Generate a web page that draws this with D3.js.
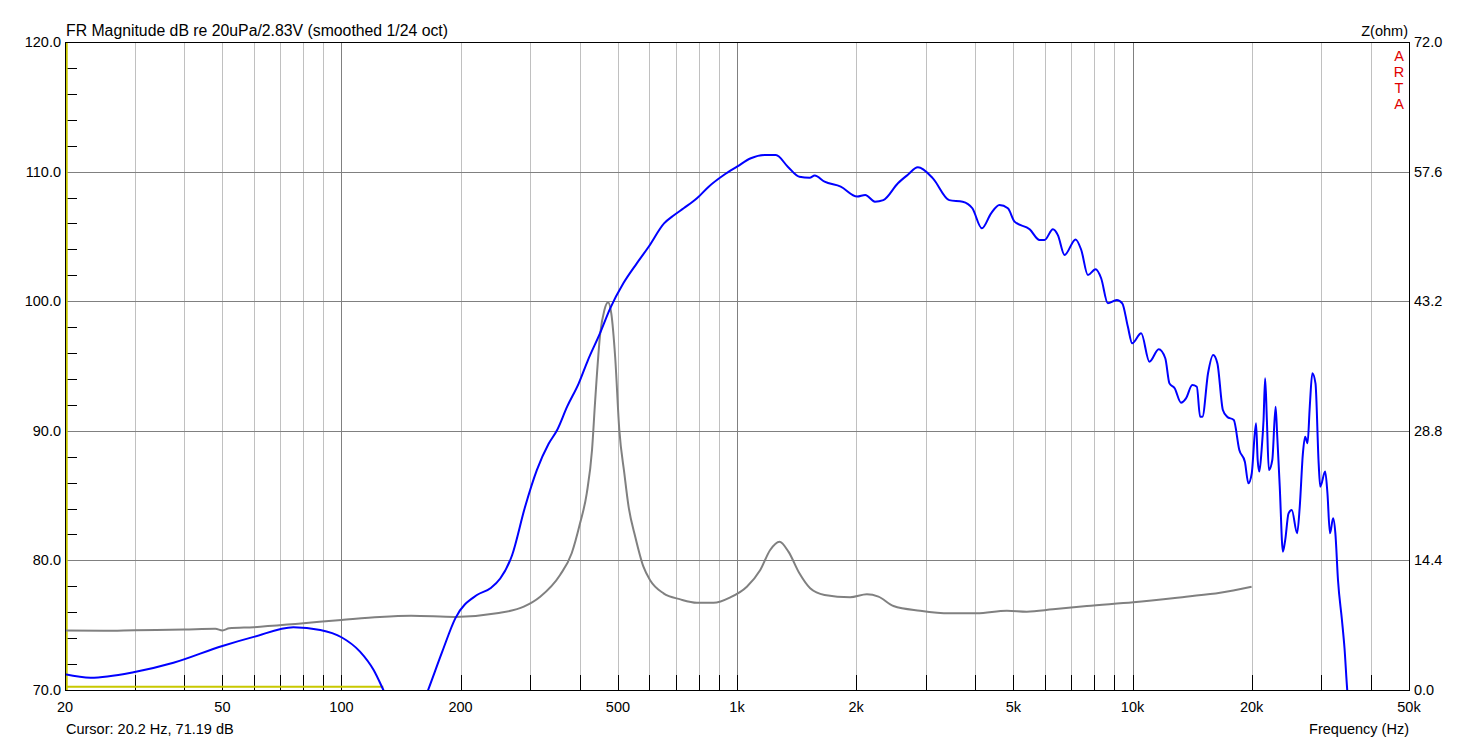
<!DOCTYPE html>
<html>
<head>
<meta charset="utf-8">
<script src="https://cdn.jsdelivr.net/npm/d3@7"></script>
<style>
  body { margin: 0; background: #fff; }
  svg { display: block; font-family: Arial, "Liberation Sans", sans-serif; }
</style>
</head>
<body>
<div id="chart"></div>
<script>
// SPL curve (Hz, dB) - null marks the gap where it drops below 70 dB
const splFreq = [20, 23.2, 29.8, 37.6, 50, 60, 75.6, 88.4, 100, 111.4, 120.6, 127.6, 132,
  145, 160, 165.6, 180, 194, 220, 238, 252, 270, 291, 312, 334, 351, 372, 398, 420, 450, 478,
  516, 558, 598, 654, 694, 733, 792, 848, 926, 1000, 1084, 1174, 1254, 1344, 1438, 1527, 1572,
  1665, 1829, 2012, 2110, 2232, 2344, 2552, 2700, 2866, 3128, 3440, 3720, 3936, 4160, 4390,
  4608, 4840, 5032, 5494, 5820, 5990, 6292, 6475, 6732, 7180, 7420, 7712, 8064, 8330, 8660,
  9120, 9420, 9730, 9980, 10516, 11032, 11646, 12100, 12396, 12780, 13260, 13650, 14160,
  14540, 14820, 15020, 15520, 15990, 16390, 16920, 17340, 18030, 18620, 19230, 19630, 20016,
  20520, 20720, 20920, 21200, 21440, 21640, 21860, 22110, 22560, 23000, 23200, 23560, 24000,
  24320, 24800, 25270, 26070, 26470, 26960, 27310, 27700, 28060, 28480, 29010, 29550, 29830,
  30690, 31100, 31560, 32150, 32570, 33070, 33840, 34350, 34900, 35300];
const splDb = [71.21, 70.95, 71.37, 72.1, 73.4, 74.1, 74.84, 74.63, 74.07, 72.96, 71.54, 70.0, 69.0,
  null, 68.8, 70.0, 73.0, 75.53, 77.33, 77.85, 78.6, 80.4, 84.1, 86.98, 89.0, 90.06, 91.86, 93.66,
  95.46, 97.5, 99.45, 101.38, 102.92, 104.2, 106.0, 106.65, 107.17, 107.94, 108.84, 109.74,
  110.38, 111.03, 111.28, 111.28, 110.38, 109.6, 109.53, 109.69, 109.22, 108.84, 108.07, 108.2,
  107.68, 107.8, 109.1, 109.74, 110.33, 109.48, 107.8, 107.68, 107.17, 105.62, 106.78, 107.42,
  107.17, 106.14, 105.55, 104.72, 104.72, 105.55, 105.1, 103.57, 104.77, 103.95, 102.02, 102.46,
  101.77, 99.84, 100.1, 99.84, 98.04, 96.75, 97.52, 95.33, 96.29, 95.6, 93.66, 93.28, 92.17,
  92.5, 93.53, 93.4, 91.09, 91.09, 94.44, 95.85, 95.2, 91.6, 91.09, 90.83, 88.52, 87.62, 85.95,
  86.72, 90.58, 87.75, 86.85, 88.52, 90.83, 94.05, 90.83, 86.98, 87.75, 91.86, 89.81, 85.69,
  80.67, 81.57, 83.63, 83.89, 82.09, 84.14, 88.26, 89.55, 89.04, 91.86, 94.44, 93.66, 87.49,
  85.69, 86.85, 85.18, 82.09, 83.25, 82.09, 78.49, 75.4, 73.22, 70.0, 68.5];

// impedance curve (Hz, ohm)
const zFreq = [20, 25, 30, 40, 48, 50, 52, 60, 79, 100, 125, 150, 194, 247, 289, 318, 357, 382,
  401, 417, 430, 438, 451, 462, 472, 481, 492, 504, 519, 532, 553, 580, 603, 652, 719, 792, 872,
  962, 1059, 1145, 1213, 1281, 1349, 1438, 1531, 1665, 1932, 2130, 2278, 2486, 2904, 3440, 4040,
  4812, 5404, 6292, 7664, 10048, 13650, 16650, 20000];
const zOhm = [6.62, 6.58, 6.64, 6.72, 6.8, 6.62, 6.85, 6.98, 7.4, 7.78, 8.12, 8.25, 8.12, 8.52, 9.26, 10.37,
  12.78, 15.19, 18.52, 21.85, 26.67, 32.2, 39.6, 42.2, 43.07, 41.85, 37.0, 28.9, 24.07, 20.37,
  17.04, 13.7, 12.2, 10.74, 10.07, 9.7, 9.7, 10.3, 11.48, 13.33, 15.56, 16.48, 15.37, 12.96, 11.3,
  10.56, 10.3, 10.63, 10.37, 9.33, 8.81, 8.52, 8.52, 8.81, 8.7, 8.96, 9.33, 9.74, 10.37, 10.81, 11.48];

// axes
const gridFreqs = [30, 40, 50, 60, 70, 80, 90, 100, 200, 300, 400, 500, 600, 700, 800, 900, 1000,
  2000, 3000, 4000, 5000, 6000, 7000, 8000, 9000, 10000, 20000, 30000, 40000];
const decadeFreqs = [100, 1000, 10000];
const freqLabels = [[20, "20"], [50, "50"], [100, "100"], [200, "200"], [500, "500"], [1000, "1k"],
  [2000, "2k"], [5000, "5k"], [10000, "10k"], [20000, "20k"], [50000, "50k"]];
const dbTicks = [70, 80, 90, 100, 110, 120];
const dbMinor = [72, 74, 76, 78, 82, 84, 86, 88, 92, 94, 96, 98, 102, 104, 106, 108, 112, 114, 116, 118];
const zTicks = [0, 14.4, 28.8, 43.2, 57.6, 72];

// cursor (yellow) at 20.2 Hz
const cursorFreq = 20.2;
const cursorTrace = [[20, 70.25], [127.6, 70.25]];

const width = 1473, height = 741,
      margin = ({ top: 42, right: 64, bottom: 51, left: 65 });

const svg = d3.select("#chart")
  .append("svg")
  .attr("width", width)
  .attr("height", height);

const x = d3.scaleLog()
  .domain([20, 50000])
  .range([margin.left, width - margin.right]);

const y = d3.scaleLinear()
  .domain([70, 120])
  .range([height - margin.bottom, margin.top]);

const yz = d3.scaleLinear()
  .domain([0, 72])
  .range([height - margin.bottom, margin.top]);

const pTop = margin.top, pBottom = height - margin.bottom,
      pLeft = margin.left, pRight = width - margin.right;

svg.append("clipPath").attr("id", "plot")
  .append("rect")
  .attr("x", pLeft).attr("y", pTop)
  .attr("width", pRight - pLeft).attr("height", pBottom - pTop);

// vertical grid
svg.append("g")
  .selectAll("line")
  .data(gridFreqs)
  .join("line")
  .attr("x1", d => Math.round(x(d)) + 0.5)
  .attr("x2", d => Math.round(x(d)) + 0.5)
  .attr("y1", pTop).attr("y2", pBottom)
  .attr("stroke", d => decadeFreqs.includes(d) ? "#808080" : "#c0c0c0")
  .attr("stroke-width", 1);

// horizontal grid
svg.append("g")
  .selectAll("line")
  .data(dbTicks.slice(1, -1))
  .join("line")
  .attr("x1", pLeft).attr("x2", pRight)
  .attr("y1", d => Math.round(y(d)) + 0.5)
  .attr("y2", d => Math.round(y(d)) + 0.5)
  .attr("stroke", "#808080");

// inner ticks: bottom per grid freq, left every 2 dB
svg.append("g")
  .selectAll("line")
  .data(gridFreqs)
  .join("line")
  .attr("x1", d => Math.round(x(d)) + 0.5)
  .attr("x2", d => Math.round(x(d)) + 0.5)
  .attr("y1", pBottom - 15).attr("y2", pBottom)
  .attr("stroke", "#000");

svg.append("g")
  .selectAll("line")
  .data(dbMinor)
  .join("line")
  .attr("x1", pLeft).attr("x2", pLeft + 12)
  .attr("y1", d => Math.round(y(d)) + 0.5)
  .attr("y2", d => Math.round(y(d)) + 0.5)
  .attr("stroke", "#000");

// yellow cursor
svg.append("line")
  .attr("x1", x(cursorFreq)).attr("x2", x(cursorFreq))
  .attr("y1", pTop).attr("y2", pBottom)
  .attr("stroke", "#c8c800").attr("stroke-width", 2);

svg.append("path")
  .datum(cursorTrace)
  .attr("d", d3.line().x(d => x(d[0])).y(d => y(d[1])))
  .attr("stroke", "#c8c800").attr("stroke-width", 2).attr("fill", "none");

// impedance curve
svg.append("path")
  .datum(d3.zip(zFreq, zOhm))
  .attr("clip-path", "url(#plot)")
  .attr("fill", "none")
  .attr("stroke", "#808080")
  .attr("stroke-width", 2)
  .attr("d", d3.line().curve(d3.curveMonotoneX).x(d => x(d[0])).y(d => yz(d[1])));

// SPL curve
svg.append("path")
  .datum(d3.zip(splFreq, splDb))
  .attr("clip-path", "url(#plot)")
  .attr("fill", "none")
  .attr("stroke", "#0000ff")
  .attr("stroke-width", 2)
  .attr("d", d3.line().curve(d3.curveMonotoneX)
    .defined(d => d[1] !== null).x(d => x(d[0])).y(d => y(d[1])));

// frame
svg.append("rect")
  .attr("x", pLeft + 0.5).attr("y", pTop + 0.5)
  .attr("width", pRight - pLeft).attr("height", pBottom - pTop)
  .attr("fill", "none").attr("stroke", "#000");

// labels
const fs = "14.5px";

svg.append("g")
  .selectAll("text")
  .data(dbTicks)
  .join("text")
  .attr("x", pLeft - 4)
  .attr("y", d => y(d) + 5)
  .attr("text-anchor", "end")
  .style("font-size", fs)
  .text(d => d.toFixed(1));

svg.append("g")
  .selectAll("text")
  .data(zTicks)
  .join("text")
  .attr("x", pRight + 5)
  .attr("y", d => yz(d) + 5)
  .style("font-size", fs)
  .text(d => d.toFixed(1));

svg.append("g")
  .selectAll("text")
  .data(freqLabels)
  .join("text")
  .attr("x", d => x(d[0]))
  .attr("y", pBottom + 22)
  .attr("text-anchor", "middle")
  .style("font-size", fs)
  .text(d => d[1]);

svg.append("text")
  .attr("x", pLeft + 1).attr("y", pTop - 6)
  .style("font-size", "15.8px")
  .text("FR Magnitude dB re 20uPa/2.83V (smoothed 1/24 oct)");

svg.append("text")
  .attr("x", pRight - 1).attr("y", pTop - 6)
  .attr("text-anchor", "end")
  .style("font-size", fs)
  .text("Z(ohm)");

svg.append("text")
  .attr("x", pLeft + 1).attr("y", height - 7)
  .style("font-size", fs)
  .text("Cursor: 20.2 Hz, 71.19 dB");

svg.append("text")
  .attr("x", pRight).attr("y", height - 7)
  .attr("text-anchor", "end")
  .style("font-size", fs)
  .text("Frequency (Hz)");

svg.append("g")
  .selectAll("text")
  .data(["A", "R", "T", "A"])
  .join("text")
  .attr("x", pRight - 10)
  .attr("y", (d, i) => pTop + 19 + i * 16)
  .attr("text-anchor", "middle")
  .attr("fill", "#e00000")
  .style("font-size", fs)
  .text(d => d);
</script>
</body>
</html>
